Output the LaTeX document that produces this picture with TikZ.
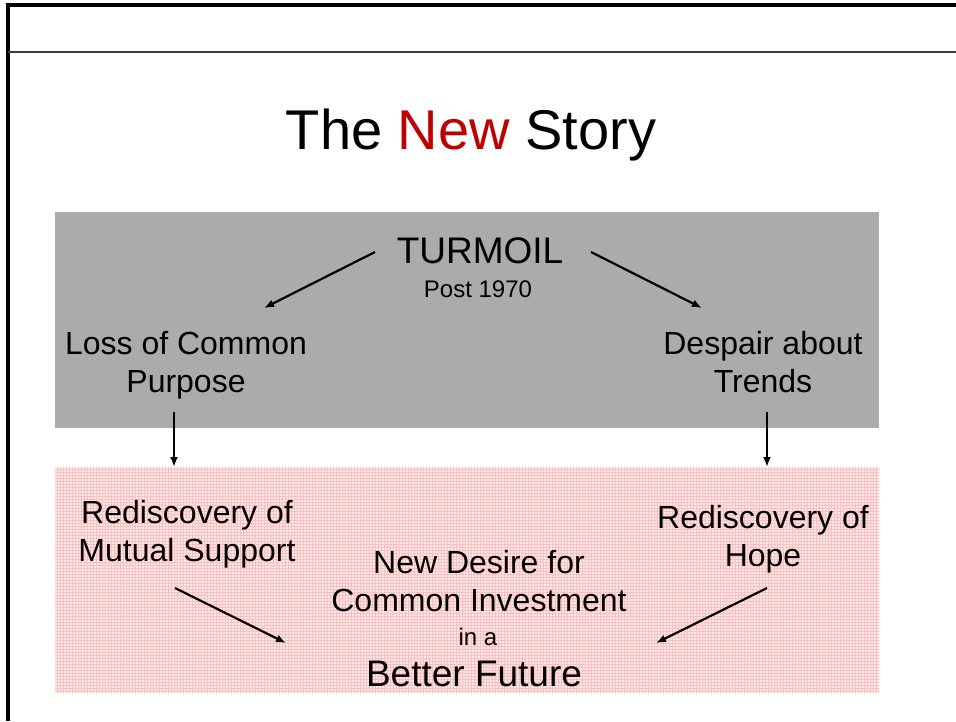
\documentclass[tikz,border=0pt]{standalone}
\usepackage{fontspec}
\setmainfont{Liberation Sans}
\usetikzlibrary{arrows.meta,patterns}
\definecolor{boxgray}{RGB}{171,171,171}
\definecolor{titlered}{RGB}{192,0,0}
\definecolor{pinkbase}{RGB}{255,235,235}
\definecolor{pinkgrid}{RGB}{255,190,190}
\definecolor{rulegray}{RGB}{60,60,60}
\tikzset{
  txt/.style={inner sep=0pt, align=center, text=black},
  big/.style={font=\fontsize{32}{38}\selectfont},
  arr/.style={line width=2.2pt, -{Latex[length=10pt,width=8pt]}},
}
\begin{document}
\begin{tikzpicture}[x=1pt,y=-1pt]
\useasboundingbox (0,0) rectangle (956,721);
\fill[white] (0,0) rectangle (956,721);
% frame
\draw[line width=3.2pt] (8,721) -- (8,5) -- (956,5);
\draw[rulegray, line width=2pt] (8,52) -- (956,52);
% boxes
\fill[boxgray] (55,212) rectangle (879,428);
\fill[pinkbase] (55,467) rectangle (879,692);
\fill[pattern=grid, pattern color=pinkgrid] (55,467) rectangle (879,692);
% title
\node[txt, font=\fontsize{56}{60}\selectfont] (title) at (471,135) {The \textcolor{titlered}{New} Story};
% top box texts
\node[txt, font=\fontsize{37}{40}\selectfont] (turmoil) at (480,251) {TURMOIL};
\node[txt, font=\fontsize{24}{28}\selectfont] (post) at (478,289) {Post 1970};
\node[txt, big] (loss) at (186,365) {Loss of Common\\Purpose};
\node[txt, big] (despair) at (763,362) {Despair about\\Trends};
% bottom box texts
\node[txt, big] (mutual) at (187,534) {Rediscovery of\\Mutual Support};
\node[txt, big] (hope) at (763,539) {Rediscovery of\\Hope};
\node[txt, big] (desire) at (479,581.5) {New Desire for\\Common Investment};
\node[txt, font=\fontsize{24}{28}\selectfont] (ina) at (478,637) {in a};
\node[txt, font=\fontsize{37}{40}\selectfont] (future) at (474,674) {Better Future};
% connector anchors
\coordinate (t1) at (375,252);
\coordinate (t1e) at (264,308);
\coordinate (t2) at (591,252);
\coordinate (t2e) at (702,308);
\coordinate (d1) at (174,412);
\coordinate (d1e) at (174,467);
\coordinate (d2) at (767,412);
\coordinate (d2e) at (767,467);
\coordinate (b1) at (175,588);
\coordinate (b1e) at (286,643);
\coordinate (b2) at (767,588);
\coordinate (b2e) at (656,643);
\draw[arr] (t1) -- (t1e);
\draw[arr] (t2) -- (t2e);
\draw[arr] (d1) -- (d1e);
\draw[arr] (d2) -- (d2e);
\draw[arr] (b1) -- (b1e);
\draw[arr] (b2) -- (b2e);
\end{tikzpicture}
\end{document}
